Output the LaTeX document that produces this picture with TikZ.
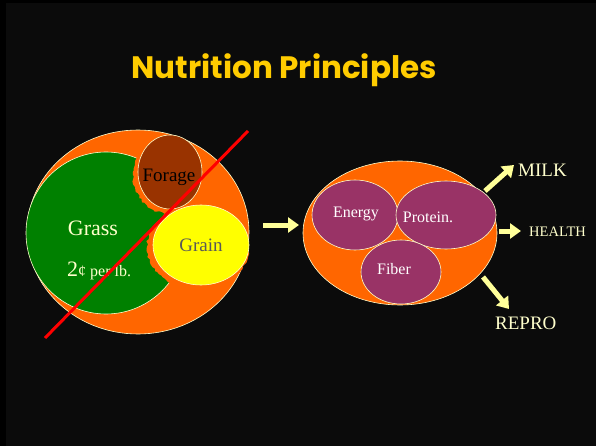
\documentclass[tikz,border=0pt]{standalone}
\usepackage{fontspec}
\setmainfont{Liberation Serif}
\newfontfamily\titlefont{Poppins}
\usetikzlibrary{arrows.meta,decorations.pathmorphing,shapes.geometric}
\definecolor{bgdark}{HTML}{0B0B0B}
\definecolor{orng}{HTML}{FF6600}
\definecolor{grassgreen}{HTML}{008000}
\definecolor{forbrown}{HTML}{993300}
\definecolor{grainyel}{HTML}{FFFF00}
\definecolor{purp}{HTML}{993366}
\definecolor{pale}{HTML}{FFFF99}
\definecolor{rim}{HTML}{FFFFCC}
\definecolor{titlecol}{HTML}{FFCC00}
\tikzset{
  rimmed/.style={draw=rim, line width=0.6pt},
  fatarrow/.style={draw=pale, line width=5pt, -{Triangle[width=15pt,length=11pt]}},
  labeltext/.style={text=rim, inner sep=0pt},
  whitetext/.style={text=white, inner sep=0pt, font=\fontsize{16}{18}\selectfont},
  ragged/.style={orng, decorate, decoration={random steps, segment length=2.5pt, amplitude=1pt}}
}
\begin{document}
\begin{tikzpicture}[x=1pt,y=-1pt]
\useasboundingbox (0,0) rectangle (596,446);
\fill[black] (0,0) rectangle (596,446);
\fill[bgdark] (6,3) rectangle (596,446);
% title
\node[text=titlecol, font=\titlefont\bfseries\fontsize{31}{34}\selectfont, inner sep=0pt] (title) at (284,70) {Nutrition Principles};
% left diagram
\filldraw[fill=orng, rimmed] (138,232) ellipse [x radius=111, y radius=102];
\filldraw[fill=grassgreen, rimmed] (106,233) ellipse [x radius=80, y radius=81];
\pgfmathsetseed{7}
\fill[ragged] (167,175) ellipse [x radius=34, y radius=38];
\fill[ragged] (198,247) ellipse [x radius=51, y radius=42];
\filldraw[fill=forbrown, rimmed] (170,172) ellipse [x radius=32, y radius=37];
\filldraw[fill=grainyel, rimmed] (201,245) ellipse [x radius=48, y radius=40];
\node[text=black, inner sep=0pt, font=\fontsize{19}{21}\selectfont] (forage) at (169,177) {Forage};
\node[text=black!65, inner sep=0pt, font=\fontsize{19}{21}\selectfont] (grain) at (201,245) {Grain};
\node[labeltext, font=\fontsize{22}{24}\selectfont] (grass) at (93,228) {Grass};
\node[labeltext, anchor=base west] (price) at (67,276) {\fontsize{22}{24}\selectfont 2\fontsize{16}{18}\selectfont¢ per lb.};
\coordinate (slashA) at (45,338);
\coordinate (slashB) at (248,131);
\draw[red, line width=3pt] (slashA) -- (slashB);
% input arrow
\coordinate (inA) at (263,225);
\coordinate (inB) at (299,225);
\draw[fatarrow] (inA) -- (inB);
% right diagram
\filldraw[fill=orng, rimmed] (400,233) ellipse [x radius=97, y radius=72];
\node[fill=purp, rimmed, ellipse, minimum width=86pt, minimum height=70pt, inner sep=0pt] (energy) at (355,215) {};
\node[fill=purp, rimmed, ellipse, minimum width=100pt, minimum height=68pt, inner sep=0pt] (protein) at (446,215) {};
\node[fill=purp, rimmed, ellipse, minimum width=80pt, minimum height=64pt, inner sep=0pt] (fiber) at (401,272) {};
\node[whitetext] at (356,214) {Energy};
\node[whitetext] at (428,217) {Protein.};
\node[whitetext] at (394,269) {Fiber};
% outputs
\node[labeltext, anchor=west, font=\fontsize{19}{21}\selectfont] (milk) at (518,170) {MILK};
\node[labeltext, anchor=west, font=\fontsize{14.5}{16}\selectfont] (health) at (529,232) {HEALTH};
\node[labeltext, anchor=west, font=\fontsize{19}{21}\selectfont] (repro) at (495,323) {REPRO};
\coordinate (mA) at (485,191);
\coordinate (mB) at (514,165);
\coordinate (hA) at (499,231);
\coordinate (hB) at (521,231);
\coordinate (rA) at (483,277);
\coordinate (rB) at (509,309);
\draw[fatarrow] (mA) -- (mB);
\draw[fatarrow] (hA) -- (hB);
\draw[fatarrow] (rA) -- (rB);
\end{tikzpicture}
\end{document}
